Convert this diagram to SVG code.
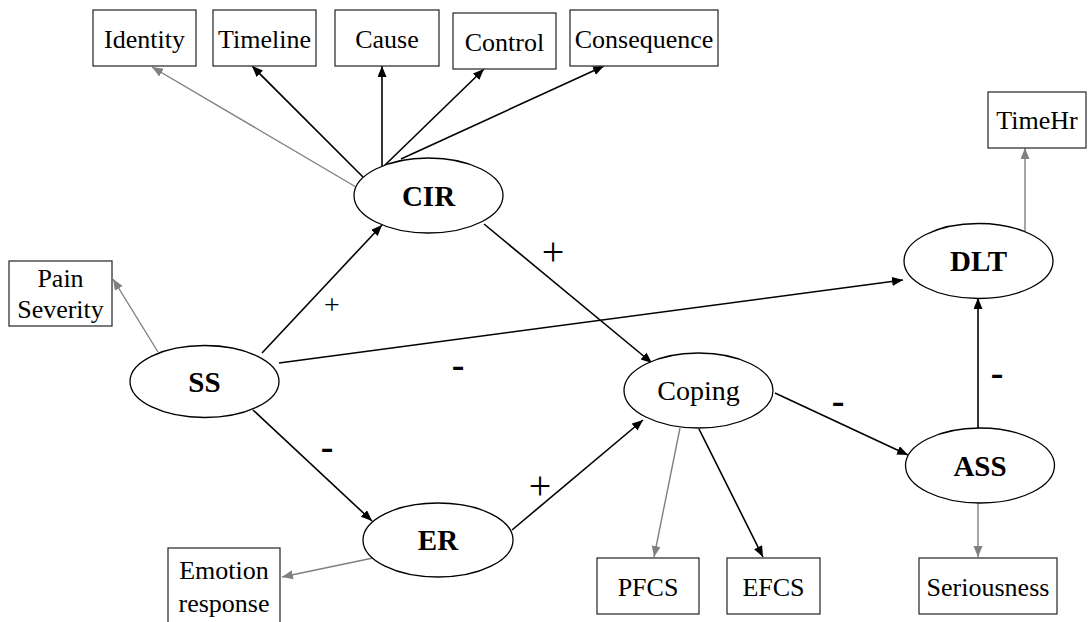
<svg xmlns="http://www.w3.org/2000/svg" width="1088" height="622" viewBox="0 0 1088 622">
<defs>
<marker id="ab" markerUnits="userSpaceOnUse" markerWidth="12" markerHeight="10" refX="11" refY="4.5" orient="auto"><path d="M0,0 L11,4.5 L0,9 z" fill="#000"/></marker>
<marker id="ag" markerUnits="userSpaceOnUse" markerWidth="12" markerHeight="10" refX="11" refY="4.5" orient="auto"><path d="M0,0 L11,4.5 L0,9 z" fill="#808080"/></marker>
<style>
.box{fill:#fff;stroke:#333;stroke-width:1.3}
.ell{fill:#fff;stroke:#000;stroke-width:1.3}
.t{font-family:"Liberation Serif","Times New Roman",serif;font-size:26px;fill:#000;text-anchor:middle}
.b{font-family:"Liberation Serif","Times New Roman",serif;font-size:29px;font-weight:bold;fill:#000;text-anchor:middle}
.c{font-family:"Liberation Serif","Times New Roman",serif;font-size:28px;fill:#000;text-anchor:middle}
.k{stroke:#000;stroke-width:1.6;fill:none;marker-end:url(#ab)}
.g{stroke:#808080;stroke-width:1.4;fill:none;marker-end:url(#ag)}
.sg{font-family:"Liberation Serif","Times New Roman",serif;fill:#000;text-anchor:middle}
</style>
</defs>
<rect width="1088" height="622" fill="#fff"/>
<g id="connectors">
<line class="g" x1="356" y1="187" x2="152" y2="67"/>
<line class="k" x1="363" y1="177" x2="252" y2="66"/>
<line class="k" x1="382" y1="167" x2="382" y2="66"/>
<line class="k" x1="384" y1="166" x2="484" y2="69"/>
<line class="k" x1="401" y1="159" x2="604" y2="66"/>
<line class="g" x1="158" y1="352" x2="113" y2="279"/>
<line class="k" x1="262" y1="353" x2="382" y2="225"/>
<line class="k" x1="279" y1="363" x2="903" y2="280"/>
<line class="k" x1="253" y1="410" x2="372" y2="521"/>
<line class="k" x1="484" y1="224" x2="652" y2="363"/>
<line class="k" x1="512" y1="530" x2="643" y2="420"/>
<line class="g" x1="373" y1="558" x2="282" y2="577"/>
<line class="g" x1="680" y1="428" x2="654" y2="557"/>
<line class="k" x1="699" y1="429" x2="763" y2="557"/>
<line class="k" x1="775" y1="393" x2="908" y2="455"/>
<line class="k" x1="978" y1="428" x2="978" y2="298"/>
<line class="g" x1="1025" y1="231" x2="1025" y2="148"/>
<line class="g" x1="978" y1="503" x2="978" y2="557"/>
<text class="sg" x="553" y="265" font-size="40">+</text>
<text class="sg" x="332" y="314" font-size="28">+</text>
<text class="sg" x="540" y="499" font-size="40">+</text>
<text class="sg" x="458" y="377" font-size="38" font-weight="bold">-</text>
<text class="sg" x="327" y="459" font-size="38" font-weight="bold">-</text>
<text class="sg" x="838" y="413" font-size="38" font-weight="bold">-</text>
<text class="sg" x="997" y="385" font-size="38" font-weight="bold">-</text>
</g>
<g id="identity"><rect class="box" x="93" y="10" width="103" height="56"/><text class="t" x="144.5" y="48">Identity</text></g>
<g id="timeline"><rect class="box" x="213" y="10" width="103" height="56"/><text class="t" x="264.5" y="48">Timeline</text></g>
<g id="cause"><rect class="box" x="335" y="10" width="104" height="56"/><text class="t" x="387" y="48">Cause</text></g>
<g id="control"><rect class="box" x="453" y="13" width="103" height="56"/><text class="t" x="504.5" y="51">Control</text></g>
<g id="consequence"><rect class="box" x="570" y="10" width="148" height="56"/><text class="t" x="644" y="48">Consequence</text></g>
<g id="timehr"><rect class="box" x="988" y="92" width="98" height="56"/><text class="t" x="1037" y="129">TimeHr</text></g>
<g id="painseverity"><rect class="box" x="9" y="261" width="103" height="65"/><text class="t" x="60.5" y="287">Pain</text><text class="t" x="60.5" y="318">Severity</text></g>
<g id="emotionresponse"><rect class="box" x="168" y="548" width="112" height="80"/><text class="t" x="224" y="579">Emotion</text><text class="t" x="224" y="612">response</text></g>
<g id="pfcs"><rect class="box" x="597" y="558" width="102" height="56"/><text class="t" x="648" y="596">PFCS</text></g>
<g id="efcs"><rect class="box" x="727" y="558" width="93" height="56"/><text class="t" x="773.5" y="596">EFCS</text></g>
<g id="seriousness"><rect class="box" x="919" y="558" width="138" height="56"/><text class="t" x="988" y="596">Seriousness</text></g>
<g id="cir"><ellipse class="ell" cx="428.5" cy="195.5" rx="74.5" ry="37.5"/><text class="b" x="428.5" y="206">CIR</text></g>
<g id="ss"><ellipse class="ell" cx="204.5" cy="381.5" rx="74.5" ry="36"/><text class="b" x="204.5" y="392">SS</text></g>
<g id="coping"><ellipse class="ell" cx="698.5" cy="390.5" rx="74.5" ry="37.5"/><text class="c" x="698.5" y="400">Coping</text></g>
<g id="er"><ellipse class="ell" cx="438" cy="540" rx="75" ry="37"/><text class="b" x="438" y="550">ER</text></g>
<g id="dlt"><ellipse class="ell" cx="978.5" cy="261" rx="74.5" ry="37.5"/><text class="b" x="978.5" y="271">DLT</text></g>
<g id="ass"><ellipse class="ell" cx="980" cy="465.5" rx="74.5" ry="37.5"/><text class="b" x="980" y="476">ASS</text></g>
</svg>
